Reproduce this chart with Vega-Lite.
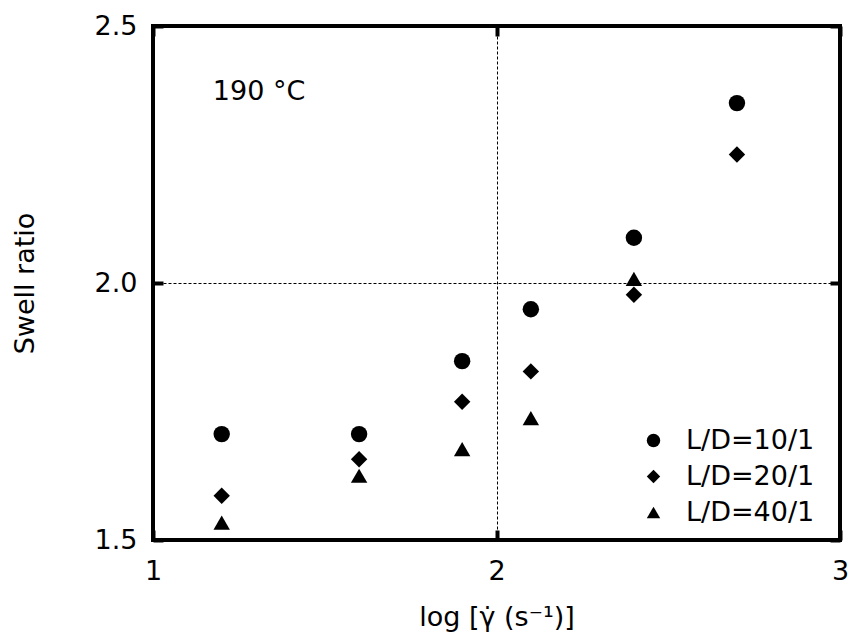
{
  "$schema": "https://vega.github.io/schema/vega-lite/v6.json",
  "width": 687,
  "height": 514,
  "autosize": {"type": "none"},
  "padding": {"left": 153, "top": 26, "right": 11, "bottom": 99},
  "background": "white",
  "config": {
    "font": "DejaVu Sans",
    "view": {"stroke": "black", "strokeWidth": 4},
    "axis": {
      "domain": false,
      "labelFontSize": 27,
      "titleFontSize": 27,
      "labelColor": "black",
      "titleColor": "black",
      "titleFontWeight": "normal",
      "gridColor": "black",
      "gridDash": [3, 2],
      "gridWidth": 1,
      "gridOpacity": 1,
      "tickColor": "black",
      "tickWidth": 4,
      "tickSize": -10
    },
    "legend": {
      "labelFontSize": 27,
      "labelColor": "black",
      "labelFont": "DejaVu Sans"
    }
  },
  "resolve": {"axis": {"x": "independent", "y": "independent"}},
  "layer": [
    {
      "data": {
        "values": [
          {"x": 1.2, "y": 1.706, "series": "L/D=10/1"},
          {"x": 1.6, "y": 1.706, "series": "L/D=10/1"},
          {"x": 1.9, "y": 1.848, "series": "L/D=10/1"},
          {"x": 2.1, "y": 1.949, "series": "L/D=10/1"},
          {"x": 2.4, "y": 2.088, "series": "L/D=10/1"},
          {"x": 2.7, "y": 2.35, "series": "L/D=10/1"},
          {"x": 1.2, "y": 1.586, "series": "L/D=20/1"},
          {"x": 1.6, "y": 1.657, "series": "L/D=20/1"},
          {"x": 1.9, "y": 1.769, "series": "L/D=20/1"},
          {"x": 2.1, "y": 1.828, "series": "L/D=20/1"},
          {"x": 2.4, "y": 1.977, "series": "L/D=20/1"},
          {"x": 2.7, "y": 2.25, "series": "L/D=20/1"},
          {"x": 1.2, "y": 1.534, "series": "L/D=40/1"},
          {"x": 1.6, "y": 1.625, "series": "L/D=40/1"},
          {"x": 1.9, "y": 1.677, "series": "L/D=40/1"},
          {"x": 2.1, "y": 1.737, "series": "L/D=40/1"},
          {"x": 2.4, "y": 2.008, "series": "L/D=40/1"}
        ]
      },
      "mark": {"type": "point", "filled": true, "opacity": 1, "size": 270, "color": "black"},
      "encoding": {
        "x": {
          "field": "x",
          "type": "quantitative",
          "scale": {"domain": [1, 3], "nice": false, "zero": false},
          "axis": {"values": [1, 2, 3], "format": ".0f", "grid": true, "title": "log [γ̇ (s⁻¹)]", "labelPadding": 28, "titlePadding": 20, "labelFlush": false}
        },
        "y": {
          "field": "y",
          "type": "quantitative",
          "scale": {"domain": [1.5, 2.5], "nice": false, "zero": false},
          "axis": {"values": [1.5, 2.0, 2.5], "format": ".1f", "grid": true, "title": "Swell ratio", "labelPadding": 26, "titlePadding": 55, "labelFlush": false}
        },
        "shape": {
          "field": "series",
          "type": "nominal",
          "scale": {"domain": ["L/D=10/1", "L/D=20/1", "L/D=40/1"], "range": ["circle", "diamond", "triangle-up"]},
          "legend": {
            "title": null,
            "orient": "none",
            "legendX": 487,
            "legendY": 401,
            "padding": 0,
            "symbolSize": 180,
            "symbolFillColor": "black",
            "symbolStrokeColor": "black",
            "labelOffset": 19,
            "rowPadding": 8
          }
        }
      }
    },
    {
      "data": {"values": [{"x": 1.174, "y": 2.357, "label": "190 °C"}]},
      "mark": {"type": "text", "align": "left", "baseline": "alphabetic", "fontSize": 27, "color": "black"},
      "encoding": {
        "x": {"field": "x", "type": "quantitative", "axis": {"orient": "top", "values": [1, 2, 3], "labels": false, "title": null, "grid": false}},
        "y": {"field": "y", "type": "quantitative", "axis": {"orient": "right", "values": [1.5, 2.0, 2.5], "labels": false, "title": null, "grid": false}},
        "text": {"field": "label"}
      }
    }
  ]
}
